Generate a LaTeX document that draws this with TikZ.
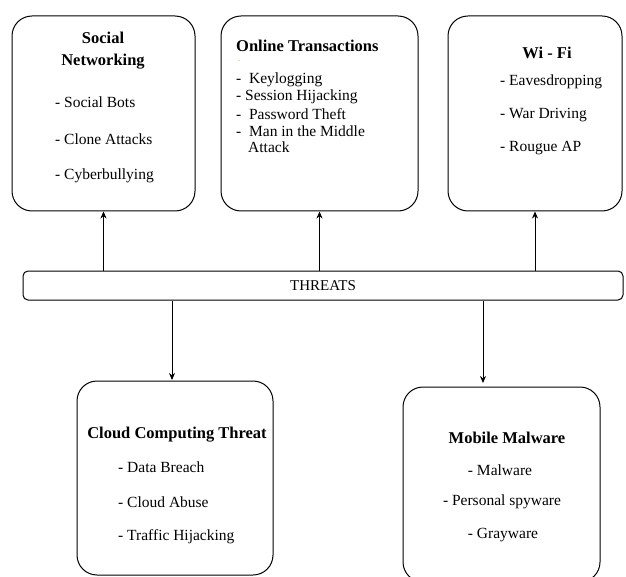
\documentclass[tikz,border=0pt]{standalone}
\usepackage{fontspec}
\setmainfont{Liberation Serif}
\usetikzlibrary{arrows.meta}

\tikzset{
  box/.style={draw, line width=1pt, rounded corners=20pt, inner sep=0pt},
  bar/.style={draw, line width=1pt, rounded corners=5pt, inner sep=0pt},
  head/.style={font=\rmfamily\fontsize{16.5}{18}\selectfont\bfseries, inner sep=0pt},
  item/.style={font=\rmfamily\fontsize{15.5}{17}\selectfont, inner sep=0pt, anchor=west},
  arr/.style={line width=0.8pt, -{Stealth[length=7pt,width=6pt]}}
}

\begin{document}
\begin{tikzpicture}[x=1pt,y=-1pt]
  \useasboundingbox (0,0) rectangle (626,577);
  % boxes
  \node[box, minimum width=183pt, minimum height=195pt] (social) at (103.5,113.5) {};
  \node[box, minimum width=197pt, minimum height=195pt] (online) at (319.5,113.5) {};
  \node[box, minimum width=174pt, minimum height=195pt] (wifi) at (535,113.5) {};
  \node[bar, minimum width=600pt, minimum height=29pt] (threats) at (323,285.5) {\rmfamily\fontsize{15}{17}\selectfont THREATS};
  \node[box, minimum width=196pt, minimum height=194pt] (cloud) at (175,478) {};
  \node[box, minimum width=197pt, minimum height=195pt] (mobile) at (501.5,484.5) {};
  % texts
  \node[head] (sn1) at (103,38) {Social};
  \node[head] (sn2) at (103,62) {Networking};
  \node[item] (sn3) at (55,102) {- Social Bots};
  \node[item] (sn4) at (55,139) {- Clone Attacks};
  \node[item] (sn5) at (55,176) {- Cyberbullying};
  \node[head, anchor=west] (ot1) at (236,46) {Online Transactions};
  \node[item, text=green!60!black, font=\tiny] (ot0) at (238,62) {-};
  \node[item] (ot2) at (236,80) {-\ \ Keylogging};
  \node[item] (ot3) at (236,97) {- Session Hijacking};
  \node[item] (ot4) at (236,114) {-\ \ Password Theft};
  \node[item] (ot5) at (236,131) {-\ \ Man in the Middle};
  \node[item] (ot6) at (248,147) {Attack};
  \node[head] (wf1) at (547,53) {Wi - Fi};
  \node[item] (wf2) at (500,82) {- Eavesdropping};
  \node[item] (wf3) at (500,115) {- War Driving};
  \node[item] (wf4) at (500,148) {- Rougue AP};
  \node[head] (cc1) at (177,435) {Cloud Computing Threat};
  \node[item] (cc2) at (118,467) {- Data Breach};
  \node[item] (cc3) at (118,502) {- Cloud Abuse};
  \node[item] (cc4) at (118,537) {- Traffic Hijacking};
  \node[head] (mm1) at (507,438) {Mobile Malware};
  \node[item, anchor=center] (mm2) at (500,470) {- Malware};
  \node[item, anchor=center] (mm3) at (502,502) {- Personal spyware};
  \node[item, anchor=center] (mm4) at (503,535) {- Grayware};
  % connectors
  \draw[arr] (threats.north -| social.south) -- (social.south);
  \draw[arr] (threats.north -| online.south) -- (online.south);
  \draw[arr] (threats.north -| wifi.south) -- (wifi.south);
  \coordinate (cin) at (172,380);
  \coordinate (min) at (483,383);
  \draw[arr] (threats.south -| cin) -- (cin);
  \draw[arr] (threats.south -| min) -- (min);
\end{tikzpicture}
\end{document}
